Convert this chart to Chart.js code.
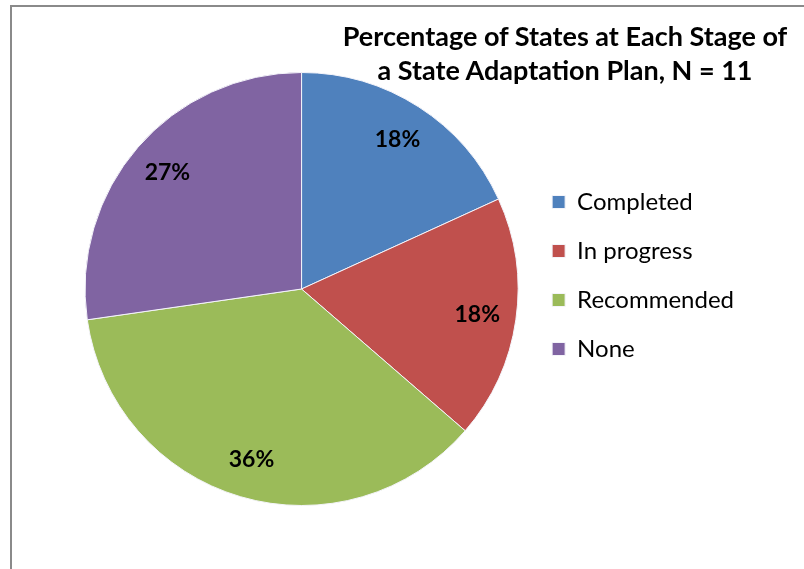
<!DOCTYPE html>
<html>
<head>
<meta charset="utf-8">
<script src="https://cdn.jsdelivr.net/npm/chart.js@4.4.1/dist/chart.umd.min.js"></script>
<style>
  html, body { margin: 0; padding: 0; background: #fff; }
  #wrap { position: relative; width: 804px; height: 569px; overflow: hidden; }
  #frame { position: absolute; left: 10px; top: 5px; right: -10px; bottom: -10px;
           border-left: 2px solid #8a8a8a; border-top: 2px solid #8a8a8a; }
  #title { position: absolute; left: 265px; top: 19px; width: 600px; text-align: center;
           font-family: Lato, sans-serif; font-weight: bold; font-size: 27px; line-height: 34px; color: #000; }
  canvas { position: absolute; left: 0; top: 0; }
</style>
</head>
<body>
<div id="wrap">
  <div id="frame"></div>
  <canvas id="pieChart" width="804" height="569"></canvas>
  <div id="title">Percentage of States at Each Stage of<br>a State Adaptation Plan, N = 11</div>
</div>
<script>
// number of states at each stage (N = 11)
const stages = ['Completed', 'In progress', 'Recommended', 'None'];
const stateCounts = [2, 2, 4, 3];
const sliceColors = ['#4F81BD', '#C0504D', '#9BBB59', '#8064A2'];

// percentage labels drawn on each slice
const sliceLabels = {
  id: 'sliceLabels',
  afterDatasetsDraw(chart) {
    const ctx = chart.ctx;
    const data = chart.data.datasets[0].data;
    const total = data.reduce((a, b) => a + b, 0);
    ctx.save();
    ctx.font = 'bold 23px Lato, sans-serif';
    ctx.fillStyle = '#000';
    ctx.textAlign = 'center';
    ctx.textBaseline = 'middle';
    chart.getDatasetMeta(0).data.forEach((arc, i) => {
      const mid = (arc.startAngle + arc.endAngle) / 2;
      const r = arc.outerRadius * 0.82;
      const pct = Math.round(data[i] / total * 100) + '%';
      ctx.fillText(pct, arc.x + Math.cos(mid) * r, arc.y + Math.sin(mid) * r);
    });
    ctx.restore();
  }
};

const ctx = document.getElementById('pieChart');
new Chart(ctx, {
  type: 'pie',
  data: {
    labels: stages,
    datasets: [{
      data: stateCounts,
      backgroundColor: sliceColors,
      borderColor: '#f4f4fa',
      borderWidth: 1
    }]
  },
  options: {
    responsive: false,
    animation: false,
    layout: { padding: { left: 76, right: 60, top: 72, bottom: 63 } },
    plugins: {
      tooltip: { enabled: false },
      legend: {
        position: 'right',
        align: 'start',
        title: { display: true, text: ' ', font: { size: 10, lineHeight: 1 }, padding: { top: 83, bottom: 0 } },
        labels: {
          boxWidth: 13,
          boxHeight: 13,
          padding: 25,
          color: '#000',
          font: { family: 'Lato, sans-serif', size: 24 }
        }
      }
    }
  },
  plugins: [sliceLabels]
});
</script>
</body>
</html>
